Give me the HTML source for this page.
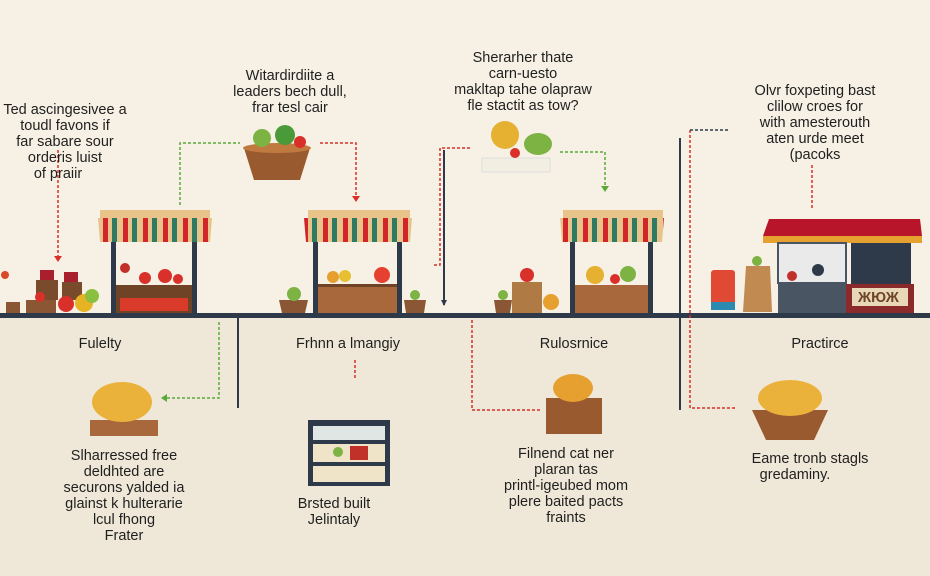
<!DOCTYPE html>
<html><head><meta charset="utf-8"><style>
body{margin:0;width:930px;height:576px;overflow:hidden;background:#f6f1e4;font-family:"Liberation Sans",sans-serif}
svg{display:block}
text{font-family:"Liberation Sans",sans-serif;fill:#1f1f1f;font-size:14.5px}
</style></head><body>
<svg width="930" height="576" viewBox="0 0 930 576">
<defs>
<pattern id="aw" width="20" height="32" patternUnits="userSpaceOnUse">
<rect width="20" height="32" fill="#e8c48a"/><rect x="3" width="5" height="32" fill="#d1252a"/><rect x="12" width="5" height="32" fill="#2f7a63"/>
</pattern>
</defs>
<rect x="0" y="0" width="930" height="316" fill="#f6f1e4"/>
<rect x="0" y="316" width="930" height="260" fill="#efe8d8"/>
<rect x="0" y="313" width="930" height="5" fill="#2e3a4a"/>
<line x1="238" y1="318" x2="238" y2="408" stroke="#2e3a4a" stroke-width="2"/>
<line x1="444" y1="150" x2="444" y2="305" stroke="#2e3a4a" stroke-width="2"/>
<line x1="680" y1="138" x2="680" y2="410" stroke="#2e3a4a" stroke-width="2"/>

<!-- stall 1 -->
<rect x="100" y="210" width="110" height="8" fill="#e8c48a"/>
<path d="M98 218 L212 218 L210 242 L100 242 Z" fill="url(#aw)"/>
<rect x="111" y="242" width="5" height="72" fill="#2e3a4a"/><rect x="192" y="242" width="5" height="72" fill="#2e3a4a"/>
<rect x="116" y="285" width="76" height="28" fill="#6e4326"/><rect x="120" y="298" width="68" height="13" fill="#d93a2a"/>
<circle cx="145" cy="278" r="6" fill="#d9302a"/><circle cx="165" cy="276" r="7" fill="#d9302a"/><circle cx="178" cy="279" r="5" fill="#d9302a"/><circle cx="125" cy="268" r="5" fill="#c2302a"/>
<rect x="36" y="280" width="22" height="20" fill="#7a4a2c"/><rect x="62" y="282" width="20" height="18" fill="#7a4a2c"/>
<rect x="40" y="270" width="14" height="10" fill="#a81f2e"/><rect x="64" y="272" width="14" height="10" fill="#a81f2e"/>
<rect x="6" y="302" width="14" height="11" fill="#8a5633"/><rect x="26" y="300" width="30" height="13" fill="#8a5633"/>
<circle cx="66" cy="304" r="8" fill="#d9302a"/><circle cx="84" cy="303" r="9" fill="#e6b323"/><circle cx="92" cy="296" r="7" fill="#8bbf3f"/>
<circle cx="40" cy="297" r="5" fill="#d9302a"/><circle cx="5" cy="275" r="4" fill="#d94a2a"/>

<!-- stall 2 -->
<rect x="308" y="210" width="102" height="8" fill="#e8c48a"/>
<path d="M304 218 L412 218 L410 242 L306 242 Z" fill="url(#aw)"/>
<rect x="313" y="242" width="5" height="72" fill="#2e3a4a"/><rect x="397" y="242" width="5" height="72" fill="#2e3a4a"/>
<rect x="318" y="284" width="79" height="29" fill="#a8683c"/><rect x="318" y="284" width="79" height="3" fill="#6e4326"/>
<circle cx="333" cy="277" r="6" fill="#e6a030"/><circle cx="345" cy="276" r="6" fill="#e6c030"/><circle cx="382" cy="275" r="8" fill="#e64030"/>
<path d="M279 300 L308 300 L305 313 L282 313 Z" fill="#8a5633"/><circle cx="294" cy="294" r="7" fill="#7cb342"/>
<path d="M404 300 L426 300 L424 313 L406 313 Z" fill="#8a5633"/><circle cx="415" cy="295" r="5" fill="#7cb342"/>

<!-- stall 3 -->
<rect x="563" y="210" width="100" height="8" fill="#e8c48a"/>
<path d="M560 218 L664 218 L662 242 L562 242 Z" fill="url(#aw)"/>
<rect x="570" y="242" width="5" height="72" fill="#2e3a4a"/><rect x="648" y="242" width="5" height="72" fill="#2e3a4a"/>
<rect x="575" y="285" width="73" height="28" fill="#a8683c"/>
<circle cx="595" cy="275" r="9" fill="#e6b030"/><circle cx="628" cy="274" r="8" fill="#7cb342"/><circle cx="615" cy="279" r="5" fill="#d9302a"/>
<rect x="512" y="282" width="30" height="31" fill="#b07a45"/><circle cx="527" cy="275" r="7" fill="#d9302a"/>
<circle cx="551" cy="302" r="8" fill="#e6a030"/><path d="M494 300 L512 300 L510 313 L496 313 Z" fill="#8a5633"/><circle cx="503" cy="295" r="5" fill="#7cb342"/>

<!-- shop -->
<path d="M769 219 L920 219 L922 236 L763 236 Z" fill="#b8142a"/>
<rect x="763" y="236" width="159" height="7" fill="#e6a030"/>
<rect x="778" y="243" width="68" height="40" fill="#eaeaea" stroke="#4a5563" stroke-width="2"/>
<rect x="778" y="283" width="68" height="30" fill="#4a5563"/>
<rect x="851" y="243" width="60" height="42" fill="#2e3a4a"/>
<rect x="846" y="284" width="68" height="29" fill="#8a2a2a"/><rect x="852" y="288" width="56" height="18" fill="#e8d8b8"/>
<text x="858" y="302" font-size="11" font-weight="bold" style="fill:#6e4326">ЖЮЖ</text>
<circle cx="818" cy="270" r="6" fill="#2e3a4a"/><circle cx="792" cy="276" r="5" fill="#c2302a"/>
<rect x="711" y="270" width="24" height="40" rx="3" fill="#e04a35"/><rect x="711" y="302" width="24" height="8" fill="#2a8ab0"/>
<path d="M746 266 L770 266 L772 312 L743 312 Z" fill="#c08a50"/><circle cx="757" cy="261" r="5" fill="#7cb342"/>

<!-- top items -->
<path d="M244 148 L310 148 L300 180 L254 180 Z" fill="#9a5a30"/><ellipse cx="277" cy="148" rx="34" ry="5" fill="#c07a40"/>
<circle cx="262" cy="138" r="9" fill="#7cb342"/><circle cx="285" cy="135" r="10" fill="#4a9a3a"/><circle cx="300" cy="142" r="6" fill="#d9302a"/>
<rect x="482" y="158" width="68" height="14" fill="#f2eee2" stroke="#ddd" />
<circle cx="505" cy="135" r="14" fill="#e6b030"/><ellipse cx="538" cy="144" rx="14" ry="11" fill="#7cb342"/><circle cx="515" cy="153" r="5" fill="#d9302a"/>

<!-- bottom items -->
<rect x="90" y="420" width="68" height="16" fill="#a8683c"/><ellipse cx="122" cy="402" rx="30" ry="20" fill="#eab23a"/>
<rect x="308" y="420" width="82" height="66" fill="#2e3a4a"/><rect x="313" y="426" width="72" height="14" fill="#dfe6e4"/><rect x="313" y="444" width="72" height="18" fill="#efe3c8"/><rect x="313" y="466" width="72" height="16" fill="#efe3c8"/><rect x="350" y="446" width="18" height="14" fill="#c2302a"/><circle cx="338" cy="452" r="5" fill="#7cb342"/>
<rect x="546" y="398" width="56" height="36" fill="#9a5a30"/><ellipse cx="573" cy="388" rx="20" ry="14" fill="#e6a030"/>
<path d="M752 410 L828 410 L814 440 L766 440 Z" fill="#9a5a30"/><ellipse cx="790" cy="398" rx="32" ry="18" fill="#eab23a"/>

<!-- connectors -->
<g fill="none" stroke-width="1.5" stroke-dasharray="3 2">
<path d="M58 150 V258" stroke="#d9302a"/>
<path d="M180 205 V143 H240" stroke="#5aaa3a"/>
<path d="M320 143 H356 V198" stroke="#d9302a"/>
<path d="M434 265 H440 V148 H470" stroke="#d9302a"/>
<path d="M560 152 H605 V188" stroke="#5aaa3a"/>
<path d="M690 130 V408 H735" stroke="#d9302a"/>
<path d="M690 130 H730" stroke="#2e3a4a"/>
<path d="M812 165 V210" stroke="#d9302a"/>
<path d="M219 322 V398 H165" stroke="#5aaa3a"/>
<path d="M355 360 V380" stroke="#d9302a"/>
<path d="M472 320 V410 H540" stroke="#d9302a"/>
</g>
<path d="M54 256 L58 262 L62 256 Z" fill="#d9302a"/><path d="M352 196 L356 202 L360 196 Z" fill="#d9302a"/>
<path d="M601 186 L605 192 L609 186 Z" fill="#5aaa3a"/><path d="M167 394 L161 398 L167 402 Z" fill="#5aaa3a"/>
<path d="M441 300 L444 306 L447 300 Z" fill="#2e3a4a"/>

<!-- labels -->
<g text-anchor="middle">
<text x="65" y="114">Ted ascingesivee a</text><text x="65" y="130">toudl favons if</text><text x="65" y="146">far sabare sour</text><text x="65" y="162">orderis luist</text><text x="58" y="178">of praiir</text>
<text x="290" y="80">Witardirdiite a</text><text x="290" y="96">leaders bech dull,</text><text x="290" y="112">frar tesl cair</text>
<text x="523" y="62">Sherarher thate</text><text x="523" y="78">carn-uesto</text><text x="523" y="94">makltap tahe olapraw</text><text x="523" y="110">fle stactit as tow?</text>
<text x="815" y="95">Olvr foxpeting bast</text><text x="815" y="111">clilow croes for</text><text x="815" y="127">with amesterouth</text><text x="815" y="143">aten urde meet</text><text x="815" y="159" font-size="12">(pacoks</text>
<text x="100" y="348">Fulelty</text><text x="348" y="348">Frhnn a lmangiy</text><text x="574" y="348">Rulosrnice</text><text x="820" y="348">Practirce</text>
<text x="124" y="460">Slharressed free</text><text x="124" y="476">deldhted are</text><text x="124" y="492">securons yalded ia</text><text x="124" y="508">glainst k hulterarie</text><text x="124" y="524">lcul fhong</text><text x="124" y="540">Frater</text>
<text x="334" y="508">Brsted built</text><text x="334" y="524">Jelintaly</text>
<text x="566" y="458">Filnend cat ner</text><text x="566" y="474">plaran tas</text><text x="566" y="490">printl-igeubed mom</text><text x="566" y="506">plere baited pacts</text><text x="566" y="522">fraints</text>
<text x="810" y="463">Eame tronb stagls</text><text x="795" y="479">gredaminy.</text>
</g>
</svg>
</body></html>
